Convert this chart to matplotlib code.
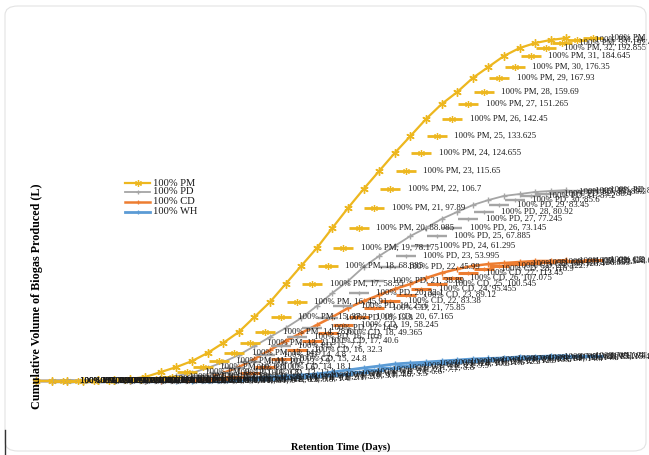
import matplotlib
matplotlib.use("Agg")
import matplotlib.pyplot as plt
from matplotlib.transforms import offset_copy
from matplotlib.lines import Line2D
from matplotlib.patches import FancyBboxPatch

# ---------------- data ----------------
days = list(range(1, 36))
series_names = ["100% PM", "100% PD", "100% CD", "100% WH"]

# plotted cumulative volumes (L)
pm_volume = [0, 0, 0, 0, 0.3, 0.6, 1.2, 2.3, 5.2, 8.1, 11.6, 16.3, 22.1, 28.5, 37.2,
             45.9, 56.4, 66.9, 77.3, 89.0, 100.6, 111.6, 122.1, 132.6, 142.4, 152.3,
             161.0, 168.0, 176.2, 182.6, 189.0, 193.6, 196.5, 198.3, 199.4]
pd_volume = [0, 0, 0, 0, 0, 0, 0, 0, 1.7, 2.9, 4.7, 7.6, 11.0, 15.1, 20.3, 25.6,
             30.8, 36.6, 43.6, 51.2, 58.1, 66.3, 72.7, 78.5, 84.3, 89.0, 94.2, 98.3,
             102.3, 105.2, 107.6, 108.7, 109.9, 110.5, 111.0]
cd_volume = [0, 0, 0, 0, 0, 0, 0, 0, 0, 0.6, 1.2, 2.3, 4.7, 8.1, 12.8, 18.0, 23.3,
             27.9, 32.6, 37.2, 42.4, 46.5, 50.0, 53.5, 56.4, 59.9, 62.8, 65.1, 66.9,
             68.0, 68.6, 69.2, 69.8, 69.8, 70.3]
wh_volume = [0, 0, 0, 0, 0, 0, 0, 0, 0, 0, 0, 0.6, 0.9, 1.2, 1.7, 2.3, 2.9, 3.5, 4.1,
             5.2, 6.4, 7.6, 8.7, 9.9, 10.5, 11.0, 11.6, 12.2, 12.8, 13.1, 13.4, 14.0,
             14.2, 14.5, 14.8]

# values printed in the data labels
pm_label_values = [0, 0, 0, 0, 0.2, 0.5, 1.1, 2.2, 4.1, 6.8, 10.2, 14.9, 21.3, 28.6,
                   37.2, 45.91, 58.55, 68.885, 78.175, 88.085, 97.89, 106.7, 115.65,
                   124.655, 133.625, 142.45, 151.265, 159.69, 167.93, 176.35, 184.645,
                   192.855, 197.43, 199.215, 200.6]
pd_label_values = [0, 0, 0, 0, 0, 0, 0, 0, 0, 0.3, 0.8, 1.6, 2.9, 4.8, 7.3, 10.6,
                   14.9, 19.9, 25.6, 32.1, 38.89, 45.99, 53.995, 61.295, 67.885,
                   73.145, 77.245, 80.92, 83.45, 85.6, 87.2, 88.4, 89.3, 89.9, 90.3]
cd_label_values = [0, 0, 0, 0, 0, 0, 0, 0.3, 0.9, 2.2, 4.5, 7.9, 12.4, 18.1, 24.8,
                   32.3, 40.6, 49.365, 58.245, 67.165, 75.85, 83.38, 89.12, 95.455,
                   100.545, 107.075, 113.45, 118.9, 122.7, 125.4, 126.855, 127.9,
                   128.6, 129.1, 129.4]
wh_label_values = [0, 0, 0, 0, 0, 0, 0, 0, 0, 0, 0, 0.3, 0.8, 1.4, 2.1, 2.9, 3.7,
                   4.6, 5.5, 6.6, 7.7, 8.8, 9.9, 10.8, 11.6, 12.3, 12.9, 13.5, 14.0,
                   14.4, 14.8, 15.1, 15.4, 15.6, 15.8]

x_title = "Retention Time (Days)"
y_title = "Cumulative Volume of Biogas Produced (L)"

# ---------------- style ----------------
colors = ["#EDB71F", "#A5A5A5", "#ED7D31", "#5B9BD5"]
markers = [(6, 2, 0), "+", "+", "+"]
msizes = [6.0, 4.0, 4.0, 4.0]
lwidths = [1.6, 1.3, 1.8, 2.0]
serif = "Liberation Serif"

W, H, DPI = 649, 455, 100
fig = plt.figure(figsize=(W / DPI, H / DPI), dpi=DPI)
fig.patch.set_facecolor("white")

# card border
fig.patches.append(FancyBboxPatch((5 / W, 4 / H), 641 / W, 445 / H,
                                  boxstyle="round,pad=0,rounding_size=0.02",
                                  transform=fig.transFigure, facecolor="none",
                                  edgecolor="#E3E3E3", linewidth=0.8))
fig.lines.append(Line2D([5 / W, 5 / W], [0, 25 / H], transform=fig.transFigure,
                        color="#333333", linewidth=1.0))

ax = fig.add_axes([30 / W, 1 - 420 / H, 610 / W, 400 / H])
ax.set_xlim(1 - 6 / 15.6, 1 + 604 / 15.6)
ax.set_ylim(-39 / 1.72, 361 / 1.72)
ax.axis("off")

volumes = [pm_volume, pd_volume, cd_volume, wh_volume]
label_values = [pm_label_values, pd_label_values, cd_label_values, wh_label_values]


def fmt(v):
    s = "%.3f" % v
    return s.rstrip("0").rstrip(".")


key_tr = offset_copy(ax.transData, fig=fig, x=26.5, y=0, units="dots")
txt_tr = offset_copy(ax.transData, fig=fig, x=44, y=0, units="dots")

# lines (draw from back series to front)
order = [3, 2, 1, 0]
for i in order:
    ax.plot(days, volumes[i], color=colors[i], linewidth=lwidths[i],
            marker=markers[i], markersize=msizes[i], markeredgewidth=1.0,
            zorder=2 + (3 - i) * 0.1, clip_on=False)

# data labels with legend keys
for i in order:
    ax.plot(days, volumes[i], linestyle="none", marker="_", markersize=15.1,
            markeredgewidth=lwidths[i] + 0.4, color=colors[i], transform=key_tr,
            zorder=4, clip_on=False)
    ax.plot(days, volumes[i], linestyle="none", marker=markers[i],
            markersize=msizes[i] - 1, markeredgewidth=0.9, color=colors[i],
            transform=key_tr, zorder=4.1, clip_on=False)
    for d, v, lv in zip(days, volumes[i], label_values[i]):
        ax.text(d, v, "%s, %d, %s" % (series_names[i], d, fmt(lv)),
                transform=txt_tr, ha="left", va="center", fontsize=6.3,
                family=serif, color="#1a1a1a", zorder=5, clip_on=False)

# legend (manual, borderless)
leg_y = [183, 192, 202, 212]
for i, name in enumerate(series_names):
    yy = 1 - leg_y[i] / H
    fig.lines.append(Line2D([125 / W, 150 / W], [yy, yy], transform=fig.transFigure,
                            color=colors[i], linewidth=lwidths[i]))
    fig.lines.append(Line2D([137.5 / W], [yy], transform=fig.transFigure,
                            color=colors[i], marker=markers[i],
                            markersize=msizes[i] - 1, markeredgewidth=0.9))
    fig.text(153 / W, yy, name, ha="left", va="center", fontsize=7.6,
             family=serif, color="#1a1a1a")

fig.text(341 / W, 1 - 447 / H, x_title, ha="center", va="center", fontsize=7.4,
         family=serif, fontweight="bold")
fig.text(37 / W, 1 - 296 / H, y_title, ha="center", va="center", fontsize=8.7,
         family=serif, fontweight="bold", rotation=90)

fig.savefig("out.png", dpi=DPI, facecolor="white")
